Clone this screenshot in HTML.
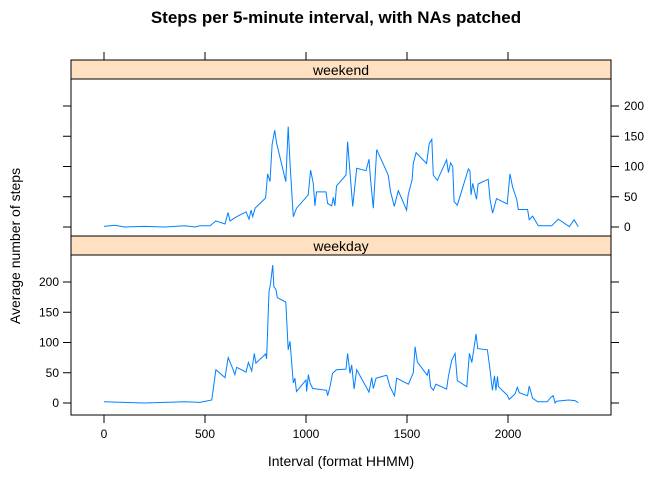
<!DOCTYPE html>
<html><head><meta charset="utf-8"><style>
body{margin:0;background:#fff}
svg{display:block;font-family:"Liberation Sans",sans-serif}
</style></head><body>
<svg id="c" width="672" height="480"></svg>
<script>
const xTicks=[0,500,1000,1500,2000];
const yTicks=[0,50,100,150,200];
const weekendInterval=[0,55,100,200,300,400,450,475,525,554,599,614,624,657,703,718,728,736,748,800,810,822,832,845,855,900,912,921,937,953,1011,1023,1036,1044,1052,1099,1107,1127,1135,1143,1151,1198,1206,1231,1251,1297,1312,1320,1333,1350,1407,1419,1437,1457,1498,1506,1525,1531,1545,1597,1610,1623,1630,1650,1696,1705,1716,1726,1733,1749,1804,1812,1817,1825,1844,1852,1902,1911,1924,1943,1996,2001,2010,2023,2043,2051,2097,2105,2122,2150,2216,2249,2304,2327,2348];
const weekendSteps=[1,3,0,1,0,2,0,2,2,10,5,24,10,17,25,13,28,17,31,48,88,75,136,160,138,75,166,106,17,31,53,94,72,35,58,58,39,35,49,35,68,86,141,34,97,93,112,78,31,128,86,58,34,60,28,53,78,105,123,105,138,145,86,77,111,90,106,100,42,36,96,92,53,72,46,71,79,46,23,47,38,56,88,66,46,29,29,12,18,2,2,13,0.5,12,0.5];
const weekdayInterval=[0,100,200,300,400,475,533,540,554,599,615,637,648,657,703,715,731,744,752,800,805,817,825,835,841,851,858,900,912,921,937,945,953,1000,1003,1012,1020,1033,1102,1107,1119,1131,1151,1198,1206,1218,1226,1238,1251,1312,1325,1333,1347,1400,1416,1438,1449,1507,1531,1540,1551,1600,1608,1617,1630,1643,1696,1705,1721,1738,1749,1796,1809,1821,1842,1850,1898,1911,1923,1933,1940,1948,1953,1996,2006,2035,2046,2056,2097,2105,2122,2147,2194,2211,2224,2233,2240,2299,2331,2348];
const weekdaySteps=[2,1,0,1,2,1,5,21,55,42,75,57,47,59,51,67,53,82,66,81,73,184,198,228,192,188,174,167,88,102,33,41,19,38,19,47,33,24,21,12,27,49,55,56,82,49,63,23,55,18,42,24,41,46,27,12,41,31,50,93,68,46,56,27,21,31,23,44,70,82,37,27,82,67,114,90,88,55,21,45,21,44,27,13,6,15,26,17,12,28,8,2,2,9,12,0,3,5,4,0.5];

const NS="http://www.w3.org/2000/svg";
const svg=document.getElementById('c');
function el(tag,attrs,parent){const e=document.createElementNS(NS,tag);for(const k in attrs)e.setAttribute(k,attrs[k]);(parent||svg).appendChild(e);return e;}
const X0=71,X1=611;
const xs=v=>104+v*0.202;
const panels=[
 {name:'weekend',stripTop:60,top:79,bottom:236,y0:227,xi:weekendInterval,ys:weekendSteps,right:true},
 {name:'weekday',stripTop:236,top:255,bottom:415,y0:403,xi:weekdayInterval,ys:weekdaySteps,right:false}
];
panels.forEach(p=>{
  const g=el('g',{});
  
  
  const yS=v=>p.y0-v*0.605;
  const s=el('rect',{x:X0,y:p.stripTop,width:X1-X0,height:p.top-p.stripTop,fill:'#ffe0c0',stroke:'#000','stroke-width':1},g);
  
  
  const st=el('text',{x:(X0+X1)/2,y:p.top-4,'text-anchor':'middle','font-size':14},g);
  st.textContent=p.name;
  
  
  el('rect',{x:X0,y:p.top,width:X1-X0,height:p.bottom-p.top,fill:'none',stroke:'#000','stroke-width':1},g);
  yTicks.forEach(t=>{
    const y=yS(t);
    el('line',{x1:X0-8,x2:X0,y1:y,y2:y,stroke:'#000'},g);
    el('line',{x1:X1,x2:X1+8,y1:y,y2:y,stroke:'#000'},g);
    const tx=el('text',{x:p.right?X1+13:X0-12,y:y+4,'text-anchor':p.right?'start':'end','font-size':12},g);
    tx.textContent=t;
    
    
  });
  const pts=p.xi.map((v,i)=>xs(v).toFixed(1)+','+yS(p.ys[i]).toFixed(1)).join(' ');
  const line=el('polyline',{points:pts,fill:'none',stroke:'#0080ff','stroke-width':1},g);
  
  
});
xTicks.forEach(t=>{
  const x=xs(t);
  el('line',{x1:x,x2:x,y1:52,y2:60,stroke:'#000'});
  el('line',{x1:x,x2:x,y1:415,y2:423,stroke:'#000'});
  const tx=el('text',{x:x,y:438,'text-anchor':'middle','font-size':12});
  tx.textContent=t;
  
  
});
const title=el('text',{x:336,y:23,'text-anchor':'middle','font-size':17,'font-weight':'bold'});
title.textContent='Steps per 5-minute interval, with NAs patched';


const xl=el('text',{x:341,y:466,'text-anchor':'middle','font-size':14});
xl.textContent='Interval (format HHMM)';


const yl=el('text',{x:20,y:246,'text-anchor':'middle','font-size':14,transform:'rotate(-90 20 246)'});
yl.textContent='Average number of steps';


</script>
</body></html>
